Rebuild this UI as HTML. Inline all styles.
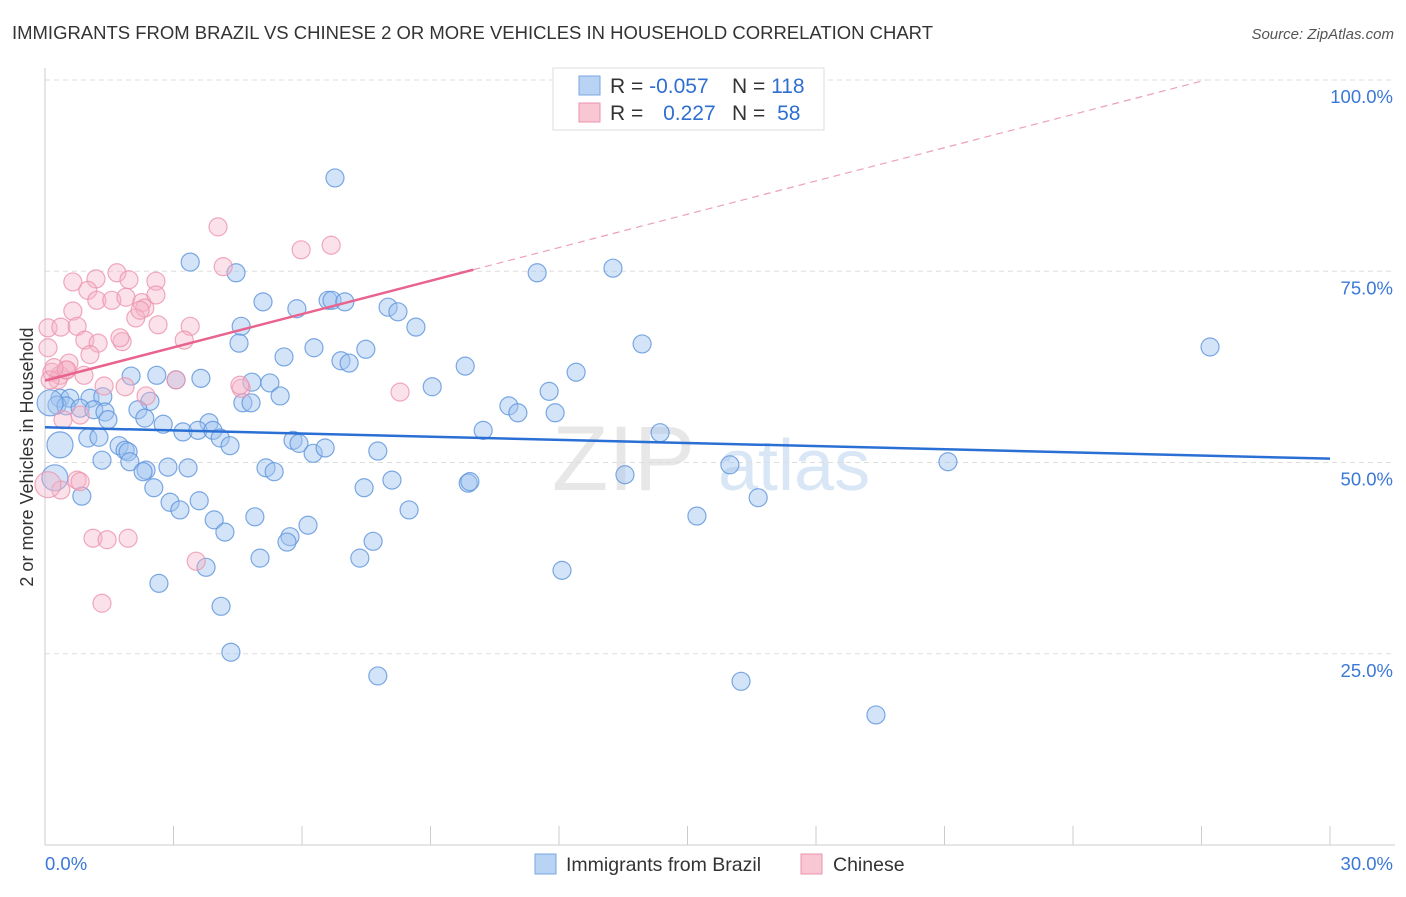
<!DOCTYPE html>
<html><head><meta charset="utf-8"><style>
body{margin:0;background:#fff;font-family:"Liberation Sans",sans-serif;}
svg text{font-family:"Liberation Sans",sans-serif;}
</style></head><body>
<svg id="chart" width="1406" height="892" xmlns="http://www.w3.org/2000/svg">
<text x="12" y="39" font-size="18" fill="#333" textLength="921" lengthAdjust="spacingAndGlyphs">IMMIGRANTS FROM BRAZIL VS CHINESE 2 OR MORE VEHICLES IN HOUSEHOLD CORRELATION CHART</text>
<text x="1394" y="39" font-size="15" fill="#555" font-style="italic" text-anchor="end">Source: ZipAtlas.com</text>
<text x="0" y="0" transform="translate(33,457) rotate(-90)" font-size="18" fill="#333" text-anchor="middle">2 or more Vehicles in Household</text>
<g><text x="552" y="490" font-size="92" font-family="Liberation Serif" fill="#ddd" opacity="0.7">ZIP</text><text x="718" y="490" font-size="72" fill="#c8dcf2" opacity="0.7">atlas</text></g>
<g id="grid"></g><g id="axes"></g><g id="blue"></g><g id="pink"></g><g id="lines"></g>
<g>
<rect x="553" y="68" width="271" height="62" fill="#fff" stroke="#ddd"/>
<rect x="579" y="76" width="21" height="19" fill="#b8d3f3" stroke="#7aa7e0"/>
<rect x="579" y="103" width="21" height="19" fill="#f9c6d4" stroke="#eb93ad"/>
<text x="610" y="93" font-size="21" fill="#333">R = <tspan fill="#2f6fd0">-0.057</tspan></text>
<text x="732" y="93" font-size="21" fill="#333">N = <tspan fill="#2f6fd0">118</tspan></text>
<text x="610" y="120" font-size="21" fill="#333">R = <tspan fill="#2f6fd0" dx="14">0.227</tspan></text>
<text x="732" y="120" font-size="21" fill="#333">N = <tspan fill="#2f6fd0" dx="6">58</tspan></text>
</g>
<g>
<rect x="535" y="854" width="21" height="20" fill="#b8d3f3" stroke="#7aa7e0"/>
<text x="566" y="871" font-size="19.5" fill="#333">Immigrants from Brazil</text>
<rect x="801" y="854" width="21" height="20" fill="#f9c6d4" stroke="#eb93ad"/>
<text x="833" y="871" font-size="19.5" fill="#333">Chinese</text>
</g>
</svg>
<script>
const blueX=[6.77,3.39,4.46,11.49,13.26,5.09,5.88,6.61,6.70,7.00,8.01,8.24,8.66,4.58,4.53,6.28,5.58,6.91,7.10,7.49,9.81,13.94,27.20,12.40,2.01,2.61,3.06,3.64,4.83,5.25,9.04,11.77,5.49,4.62,4.81,2.45,10.83,11.04,11.91,0.35,0.58,1.05,1.35,0.28,0.49,0.82,1.14,1.40,2.17,2.33,1.47,2.76,3.83,3.22,3.57,3.92,4.09,4.32,5.79,5.93,6.26,6.54,7.77,10.23,14.36,1.00,1.26,1.73,1.87,1.94,0.35,1.33,1.98,2.36,2.29,2.87,3.34,5.16,5.35,8.10,7.45,9.88,9.92,13.54,15.99,21.08,2.54,2.92,3.15,3.60,0.86,3.95,4.20,4.90,6.14,5.72,5.65,7.66,8.50,15.22,16.65,7.35,5.02,3.76,12.07,2.66,4.11,4.34,7.77,16.25,19.40,0.23,0.12];
const blueY=[87.2,76.2,74.8,74.8,75.4,71.0,70.1,71.2,71.2,71.0,70.3,69.7,67.7,67.8,65.6,65.0,63.8,63.3,63.0,64.8,62.6,65.5,65.1,61.8,61.3,61.4,60.8,61.0,60.5,60.4,59.9,59.3,58.7,57.8,57.8,58.0,57.4,56.5,56.5,58.4,58.4,58.4,58.6,57.5,57.4,57.1,56.9,56.6,56.9,55.8,55.6,55.0,55.2,54.0,54.2,54.2,53.2,52.2,52.9,52.5,51.2,51.9,51.5,54.2,53.9,53.2,53.3,52.2,51.6,51.4,52.3,50.3,50.1,49.0,48.8,49.4,49.3,49.3,48.8,47.7,46.7,47.3,47.5,48.4,49.7,50.1,46.7,44.8,43.8,45.0,45.6,42.5,40.9,42.9,41.8,40.3,39.6,39.7,43.8,43.0,45.4,37.5,37.5,36.3,35.9,34.2,31.2,25.2,22.1,21.4,17.0,48.0,57.8];
const pinkX=[4.04,5.98,6.68,4.16,0.65,1.19,1.68,1.96,2.59,1.00,1.21,1.56,1.89,2.26,2.33,2.12,2.59,2.64,0.07,0.37,0.65,0.75,3.39,3.25,0.93,1.24,1.80,1.05,1.75,0.56,0.16,0.35,0.30,0.49,0.91,0.07,0.12,1.38,1.87,2.36,3.06,4.58,8.29,0.42,0.82,0.37,0.75,0.82,0.07,1.12,1.45,1.94,3.53,1.33,0.51,0.21,4.55,2.22];
const pinkY=[80.8,77.8,78.4,75.6,73.6,74.0,74.8,73.9,73.7,72.5,71.2,71.2,71.6,70.9,70.2,68.9,71.9,68.0,67.6,67.7,69.8,67.8,67.8,66.0,66.0,65.6,65.8,64.1,66.3,63.0,61.8,61.4,60.8,62.1,61.4,65.0,60.8,60.0,59.9,58.7,60.8,59.7,59.2,55.6,56.2,46.4,47.7,47.5,47.1,40.1,39.9,40.1,37.1,31.6,62.1,62.4,60.1,69.9];
const blueTrend=[54.6,50.5];   // y at x=0 and x=30
const pinkTrend=[60.7,75.2];   // y at x=0 and x=10 (solid end)
const yTicks=[25,50,75,100];
const yTickLabels=["25.0%","50.0%","75.0%","100.0%"];
const xTickVals=[0,3,6,9,12,15,18,21,24,27,30];
const NS="http://www.w3.org/2000/svg";
const X=v=>45+v/30*1285, Y=v=>845-v*7.65;
function mk(tag,attrs,parent){const e=document.createElementNS(NS,tag);for(const k in attrs)e.setAttribute(k,attrs[k]);parent.appendChild(e);return e;}
const grid=document.getElementById('grid'),axes=document.getElementById('axes');
yTicks.forEach((t,i)=>{
 const l=mk('line',{x1:45,x2:1395,y1:Y(t),y2:Y(t),stroke:'#ddd','stroke-dasharray':'5,4'},grid);
 
 
 const tx=mk('text',{x:1393,y:Y(t)+23,'font-size':18.5,fill:'#3a78d8','text-anchor':'end'},axes);
 tx.textContent=yTickLabels[i];
 
 
});
const ax=mk('line',{x1:45,x2:1395,y1:845,y2:845,stroke:'#ccc'},axes);


const ay=mk('line',{x1:45,x2:45,y1:68,y2:845,stroke:'#ccc'},axes);


xTickVals.forEach(v=>{const t=mk('line',{x1:X(v),x2:X(v),y1:826,y2:845,stroke:'#ccc'},axes);
 
 });
const xl0=mk('text',{x:45,y:870,'font-size':18.5,fill:'#3a78d8'},axes);xl0.textContent='0.0%';


const xl1=mk('text',{x:1393,y:870,'font-size':18.5,fill:'#3a78d8','text-anchor':'end'},axes);xl1.textContent='30.0%';


function dots(xs,ys,g,fill,stroke,name){xs.forEach((x,i)=>{
 const big=(x<0.4&&g.id==='blue'&&(i>=blueX.length-2||i===70))||(g.id==='pink'&&i===48);
 const c=mk('circle',{cx:X(x),cy:Y(ys[i]),r:big?13:9,fill:fill,stroke:stroke,'stroke-width':1.2,'stroke-opacity':0.8},g);
 
 });}
dots(blueX,blueY,document.getElementById('blue'),'rgba(160,196,240,0.45)','#5d93dc','brazil-point');
dots(pinkX,pinkY,document.getElementById('pink'),'rgba(246,180,200,0.4)','#ec93ae','chinese-point');
const lg=document.getElementById('lines');
const bl=mk('line',{x1:X(0),y1:Y(blueTrend[0]),x2:X(30),y2:Y(blueTrend[1]),stroke:'#2a6fd4','stroke-width':2.5},lg);


const slope=(pinkTrend[1]-pinkTrend[0])/10;
const xEnd=(100-pinkTrend[0])/slope;
const pd=mk('line',{x1:X(10),y1:Y(pinkTrend[1]),x2:X(xEnd),y2:Y(100),stroke:'#eda0b8','stroke-width':1.2,'stroke-dasharray':'7,5'},lg);


const pl=mk('line',{x1:X(0),y1:Y(pinkTrend[0]),x2:X(10),y2:Y(pinkTrend[1]),stroke:'#e8638d','stroke-width':2.5},lg);


</script>
</body></html>
